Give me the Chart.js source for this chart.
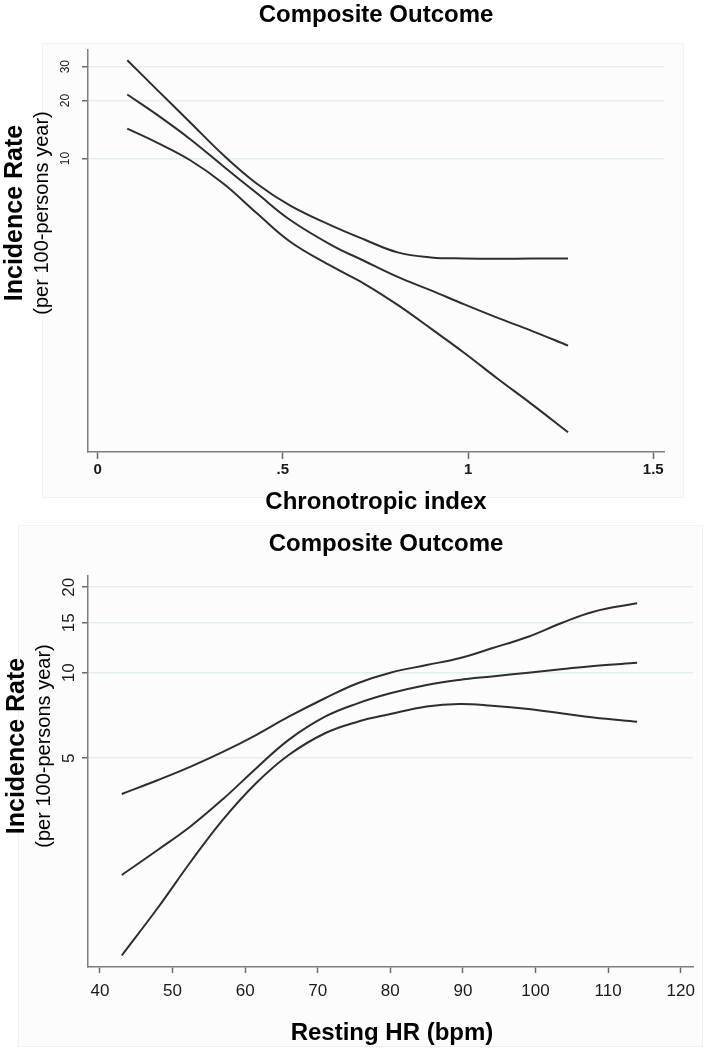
<!DOCTYPE html>
<html>
<head>
<meta charset="utf-8">
<title>Composite Outcome</title>
<script src="https://cdn.jsdelivr.net/npm/chart.js@4.4.1/dist/chart.umd.min.js"></script>
<style>
    html, body { margin: 0; padding: 0; background: #fff; }
    #page { position: relative; width: 710px; height: 1050px; overflow: hidden; }
    .panel { position: absolute; background: #fcfcfc; border: 1px solid #f0f2f2; }
    canvas { position: absolute; left: 0; }
</style>
</head>
<body>
<div id="page">
    <div class="panel" style="left:42px; top:43px; width:640px; height:453px;"></div>
    <div class="panel" style="left:18px; top:525px; width:683px; height:520px;"></div>
    <canvas id="chiChart" width="710" height="520" style="top:0px"></canvas>
    <canvas id="hrChart" width="710" height="530" style="top:520px"></canvas>
</div>
<script>
// Top panel: chronotropic index
const chiX = [0.08, 0.16, 0.25, 0.34, 0.43, 0.52, 0.63, 0.72, 0.81, 0.90, 0.99, 1.08, 1.17, 1.27];
const chiUpper = [32.4, 22.8, 15.4, 10.4, 7.4, 5.7, 4.5, 3.8, 3.26, 3.07, 3.03, 3.02, 3.03, 3.03];
const chiMid = [21.5, 16.9, 12.6, 9.1, 6.6, 4.8, 3.57, 2.94, 2.43, 2.07, 1.75, 1.49, 1.28, 1.07];
const chiLower = [14.3, 12.1, 9.8, 7.4, 5.2, 3.7, 2.77, 2.24, 1.74, 1.31, 0.98, 0.72, 0.535, 0.38];
const chiXTicks = [0, 0.5, 1, 1.5];
const chiXLabels = ['0', '.5', '1', '1.5'];
const chiYTicks = [10, 20, 30];

// Bottom panel: resting heart rate
const hrX = [43, 48, 52.5, 57, 61.5, 66, 71, 75.5, 80, 85, 89.5, 94, 99, 103.5, 108, 114];
const hrUpper = [3.74, 4.19, 4.67, 5.27, 6.03, 7.0, 8.13, 9.18, 10.0, 10.64, 11.24, 12.19, 13.39, 14.93, 16.4, 17.55];
const hrMid = [1.94, 2.38, 2.88, 3.6, 4.6, 5.8, 7.0, 7.8, 8.46, 9.05, 9.43, 9.7, 10.0, 10.28, 10.56, 10.84];
const hrLower = [1.01, 1.49, 2.16, 3.05, 4.08, 5.13, 6.12, 6.72, 7.15, 7.6, 7.76, 7.65, 7.45, 7.2, 6.95, 6.72];
const hrXTicks = [40, 50, 60, 70, 80, 90, 100, 110, 120];
const hrYTicks = [5, 10, 15, 20];

const FONT = "'Liberation Sans', Arial, Helvetica, sans-serif";
Chart.defaults.font.family = FONT;

function toPoints(xs, ys) {
    return xs.map((x, i) => ({ x: x, y: ys[i] }));
}

function curve(xs, ys) {
    return {
        data: toPoints(xs, ys),
        borderColor: '#2e2e2e',
        borderWidth: 2,
        pointRadius: 0,
        tension: 0.4,
        fill: false
    };
}

function drawText(ctx, text, x, y, font, rotate) {
    ctx.save();
    ctx.translate(x, y);
    if (rotate) ctx.rotate(-Math.PI / 2);
    ctx.font = font;
    ctx.textAlign = 'center';
    ctx.textBaseline = 'middle';
    ctx.fillText(text, 0, 0);
    ctx.restore();
}

// titles, axis titles and the rotated y tick labels
const stataText = {
    id: 'stataText',
    afterDraw(chart, args, opts) {
        const ctx = chart.ctx;
        const yScale = chart.scales.y;
        ctx.save();
        ctx.fillStyle = '#000';
        drawText(ctx, opts.title, opts.titleX, opts.titleY, 'bold 24px ' + FONT, false);
        drawText(ctx, 'Incidence Rate', opts.yTitleX, opts.yTitleY, 'bold 25px ' + FONT, true);
        drawText(ctx, '(per 100-persons year)', opts.ySubX, opts.yTitleY, '20px ' + FONT, true);
        drawText(ctx, opts.xTitle, opts.xTitleX, opts.xTitleY, 'bold 24px ' + FONT, false);
        ctx.fillStyle = '#1a1a1a';
        opts.yTicks.forEach(v => {
            drawText(ctx, String(v), opts.yTickX, yScale.getPixelForValue(v), opts.yTickFont, true);
        });
        ctx.restore();
    }
};

function makeChart(id, cfg) {
    return new Chart(document.getElementById(id), {
        type: 'line',
        data: {
            datasets: [curve(cfg.xs, cfg.upper), curve(cfg.xs, cfg.mid), curve(cfg.xs, cfg.lower)]
        },
        options: {
            responsive: false,
            animation: false,
            layout: { padding: cfg.padding },
            plugins: {
                legend: { display: false },
                tooltip: { enabled: false },
                stataText: cfg.text
            },
            scales: {
                x: {
                    type: 'linear',
                    min: cfg.xMin,
                    max: cfg.xMax,
                    afterFit: (scale) => { scale.height = cfg.xHeight; },
                    afterBuildTicks: (scale) => { scale.ticks = cfg.xTicks.map(v => ({ value: v })); },
                    ticks: {
                        autoSkip: false,
                        maxRotation: 0,
                        padding: cfg.xTickPadding,
                        color: '#1a1a1a',
                        font: cfg.xTickFont,
                        callback: (v, i) => cfg.xLabels[i]
                    },
                    grid: { drawOnChartArea: false, tickColor: '#6a6a6a', tickLength: cfg.xTickLen, tickWidth: 1.5 },
                    border: { color: '#7d7d7d', width: 1.5 }
                },
                y: {
                    type: 'logarithmic',
                    min: cfg.yMin,
                    max: cfg.yMax,
                    afterFit: (scale) => { scale.width = 88; },
                    afterBuildTicks: (scale) => { scale.ticks = cfg.yTicks.map(v => ({ value: v })); },
                    ticks: { display: false },
                    grid: { color: '#e5eeee', lineWidth: 1.5, tickColor: '#6a6a6a', tickLength: 6, tickWidth: 1.5 },
                    border: { color: '#7d7d7d', width: 1.5 }
                }
            }
        },
        plugins: [stataText]
    });
}

makeChart('chiChart', {
    xs: chiX, upper: chiUpper, mid: chiMid, lower: chiLower,
    padding: { left: 0, top: 50, right: 46, bottom: 0 },
    xMin: -0.026, xMax: 1.529, xHeight: 68, xTickLen: 7, xTickPadding: 2,
    xTicks: chiXTicks, xLabels: chiXLabels,
    xTickFont: { size: 15, weight: 'bold' },
    yMin: 0.339, yMax: 36.6, yTicks: chiYTicks,
    text: {
        title: 'Composite Outcome', titleX: 376, titleY: 15,
        xTitle: 'Chronotropic index', xTitleX: 376, xTitleY: 502,
        yTitleX: 15, ySubX: 42, yTitleY: 213,
        yTicks: chiYTicks, yTickX: 66, yTickFont: '12px ' + FONT
    }
});

makeChart('hrChart', {
    xs: hrX, upper: hrUpper, mid: hrMid, lower: hrLower,
    padding: { left: 0, top: 56, right: 17, bottom: 0 },
    xMin: 38.35, xMax: 121.7, xHeight: 83, xTickLen: 6, xTickPadding: 8,
    xTicks: hrXTicks, xLabels: hrXTicks.map(String),
    xTickFont: { size: 17 },
    yMin: 0.92, yMax: 21.9, yTicks: hrYTicks,
    text: {
        title: 'Composite Outcome', titleX: 386, titleY: 24,
        xTitle: 'Resting HR (bpm)', xTitleX: 392, xTitleY: 513,
        yTitleX: 17, ySubX: 44, yTitleY: 226,
        yTicks: hrYTicks, yTickX: 69, yTickFont: '17px ' + FONT
    }
});
</script>
</body>
</html>
